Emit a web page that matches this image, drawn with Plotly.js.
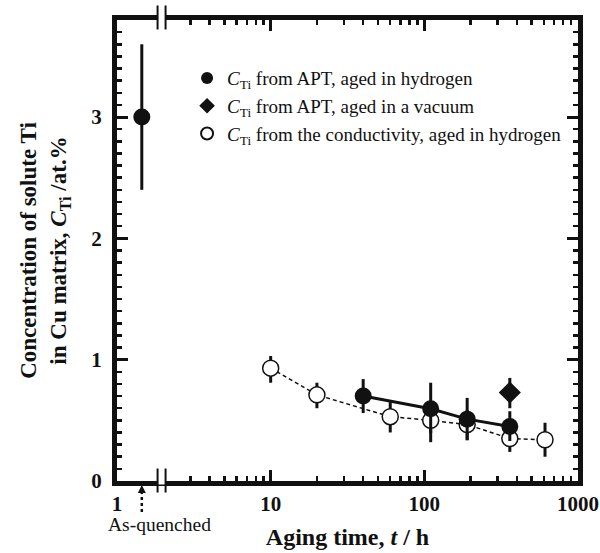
<!DOCTYPE html>
<html>
<head>
<meta charset="utf-8">
<script src="https://cdn.plot.ly/plotly-3.0.1.min.js"></script>
<style>html,body{margin:0;padding:0;background:#fff;}#chart{width:600px;height:553px;}</style>
</head>
<body>
<div id="chart"></div>
<script>
// ---- data ----
const quenchX = [1.45];
const quenchY = [3.0];
const quenchErr = [0.6];

const aptH_X = [40, 110, 190, 360];
const aptH_Y = [0.70, 0.595, 0.51, 0.45];
const aptH_ErrPlus = [0.14, 0.215, 0.175, 0.125];
const aptH_ErrMinus = [0.14, 0.20, 0.17, 0.12];

const aptVac_X = [360];
const aptVac_Y = [0.73];
const aptVac_ErrPlus = [0.12];
const aptVac_ErrMinus = [0.13];

const cond_X = [10, 20, 60, 110, 190, 360, 610];
const cond_Y = [0.93, 0.71, 0.53, 0.50, 0.465, 0.35, 0.34];
const cond_ErrPlus = [0.10, 0.10, 0.12, 0.12, 0.12, 0.11, 0.14];
const cond_ErrMinus = [0.12, 0.11, 0.13, 0.18, 0.13, 0.11, 0.14];

const xTickVals = [1, 10, 100, 1000];
const xTickText = ['1', '10', '100', '1000'];
const xMinorVals = [3,4,5,6,7,8,9,20,30,40,50,60,70,80,90,200,300,400,500,600,700,800,900];
const yTickVals = [0, 1, 2, 3];

const legendNames = [
  '<i>C</i><sub>Ti</sub> from APT, aged in hydrogen',
  '<i>C</i><sub>Ti</sub> from APT, aged in a vacuum',
  '<i>C</i><sub>Ti</sub> from the conductivity, aged in hydrogen'
];

const breakAt = 1.95;
// ---- layout constants ----
const FONT = "'Liberation Serif', 'Times New Roman', Times, serif";
const M = {l: 117, r: 22, t: 20, b: 72};
const W = 600, H = 553;
const PW = W - M.l - M.r, PH = H - M.t - M.b;
const xr = [0, 3];
const xFrac = v => (Math.log10(v) - xr[0]) / (xr[1] - xr[0]);
const pyTop = d => 1 + d / PH;   // d px above top edge
const pyBot = d => -d / PH;      // d px below bottom edge
const dxp = d => d / PW;

const errStyle = (plus, minus) => ({type: 'data', symmetric: false, array: plus, arrayminus: minus,
  color: '#111', thickness: 3, width: 0});

const traces = [
  {x: cond_X, y: cond_Y, mode: 'lines', line: {color: '#111', width: 1.5, dash: '4px,3px'},
   showlegend: false, hoverinfo: 'skip'},
  {x: cond_X, y: cond_Y, mode: 'markers', name: legendNames[2], legendrank: 3,
   marker: {symbol: 'circle', size: 16, color: '#fff', line: {color: '#111', width: 1.5}},
   error_y: errStyle(cond_ErrPlus, cond_ErrMinus)},
  {x: aptH_X, y: aptH_Y, mode: 'lines', line: {color: '#111', width: 3},
   showlegend: false, hoverinfo: 'skip'},
  {x: aptH_X, y: aptH_Y, mode: 'markers', name: legendNames[0], legendrank: 1,
   marker: {symbol: 'circle', size: 17, color: '#111'},
   error_y: errStyle(aptH_ErrPlus, aptH_ErrMinus)},
  {x: aptVac_X, y: aptVac_Y, mode: 'markers', name: legendNames[1], legendrank: 2,
   marker: {symbol: 'diamond', size: 17, color: '#111'},
   error_y: errStyle(aptVac_ErrPlus, aptVac_ErrMinus)},
  {x: quenchX, y: quenchY, mode: 'markers', showlegend: false,
   marker: {symbol: 'circle', size: 17, color: '#111'},
   error_y: {type: 'data', array: quenchErr, color: '#111', thickness: 3, width: 0}}
];

const xb = xFrac(breakAt);
const xq = xFrac(quenchX[0]);
const gap = dxp(4);
const shapes = [];
// axis break marks (top and bottom)
[pyTop(2.5), pyBot(-0.5)].forEach(yc => {
  const hh = 12 / PH;
  shapes.push({type: 'rect', xref: 'paper', yref: 'paper', x0: xb - gap, x1: xb + gap,
    y0: yc - 4 / PH, y1: yc + 4 / PH, fillcolor: '#fff', line: {width: 0}, layer: 'above'});
  [-gap, gap].forEach(o => shapes.push({type: 'line', xref: 'paper', yref: 'paper',
    x0: xb + o, x1: xb + o, y0: yc - hh, y1: yc + hh, line: {color: '#111', width: 2}, layer: 'above'}));
});
// dotted arrow for as-quenched
shapes.push({type: 'line', xref: 'paper', yref: 'paper', x0: xq, x1: xq,
  y0: pyBot(31), y1: pyBot(11), line: {color: '#111', width: 2.5, dash: 'dot'}});
shapes.push({type: 'path', xref: 'paper', yref: 'paper',
  path: `M ${xq - dxp(4)} ${pyBot(12)} L ${xq + dxp(4)} ${pyBot(12)} L ${xq} ${pyBot(4)} Z`,
  fillcolor: '#111', line: {width: 0}});

const layout = {
  width: W, height: H,
  margin: M,
  paper_bgcolor: '#fff', plot_bgcolor: '#fff',
  font: {family: FONT, color: '#111'},
  showlegend: true,
  legend: {x: 0.152, y: 0.915, xanchor: 'left', yanchor: 'top', bgcolor: 'rgba(0,0,0,0)',
    font: {family: FONT, size: 19, color: '#111'}, itemwidth: 30, itemsizing: 'constant', tracegroupgap: 0},
  xaxis: {
    type: 'log', range: xr, tickmode: 'array', tickvals: xTickVals, ticktext: xTickText,
    ticks: 'inside', ticklen: 11, tickwidth: 3, tickcolor: '#111',
    showline: true, linewidth: 5, linecolor: '#111', mirror: 'ticks',
    showgrid: false, zeroline: false,
    tickfont: {family: FONT, size: 21, weight: 'bold', color: '#111'},
    minor: {tickmode: 'array', tickvals: xMinorVals, ticks: 'inside', ticklen: 5, tickwidth: 2.5, tickcolor: '#111', showgrid: false},
    title: {text: 'Aging time, <i>t</i> / h', font: {family: FONT, size: 24, weight: 'bold', color: '#111'}, standoff: 14}
  },
  yaxis: {
    range: [0, 3.8], tickmode: 'array', tickvals: yTickVals,
    ticks: 'inside', ticklen: 11, tickwidth: 3, tickcolor: '#111',
    showline: true, linewidth: 5, linecolor: '#111', mirror: 'ticks',
    showgrid: false, zeroline: false,
    tickfont: {family: FONT, size: 21, weight: 'bold', color: '#111'},
    ticklabelstandoff: 6,
    minor: {dtick: 0.1, ticks: 'inside', ticklen: 5, tickwidth: 2.5, tickcolor: '#111', showgrid: false},
    title: {text: 'Concentration of solute Ti<br>in Cu matrix, <i>C</i><sub>Ti</sub> /at.%',
      font: {family: FONT, size: 23, weight: 'bold', color: '#111'}, standoff: 20}
  },
  shapes: shapes,
  annotations: [
    {xref: 'paper', yref: 'paper', x: xFrac(quenchX[0]) + dxp(18), y: pyBot(43), xanchor: 'center', yanchor: 'middle',
     text: 'As-quenched', showarrow: false, font: {family: FONT, size: 19.5, color: '#111'}}
  ]
};

Plotly.newPlot('chart', traces, layout, {staticPlot: true, displayModeBar: false});
</script>
</body>
</html>
